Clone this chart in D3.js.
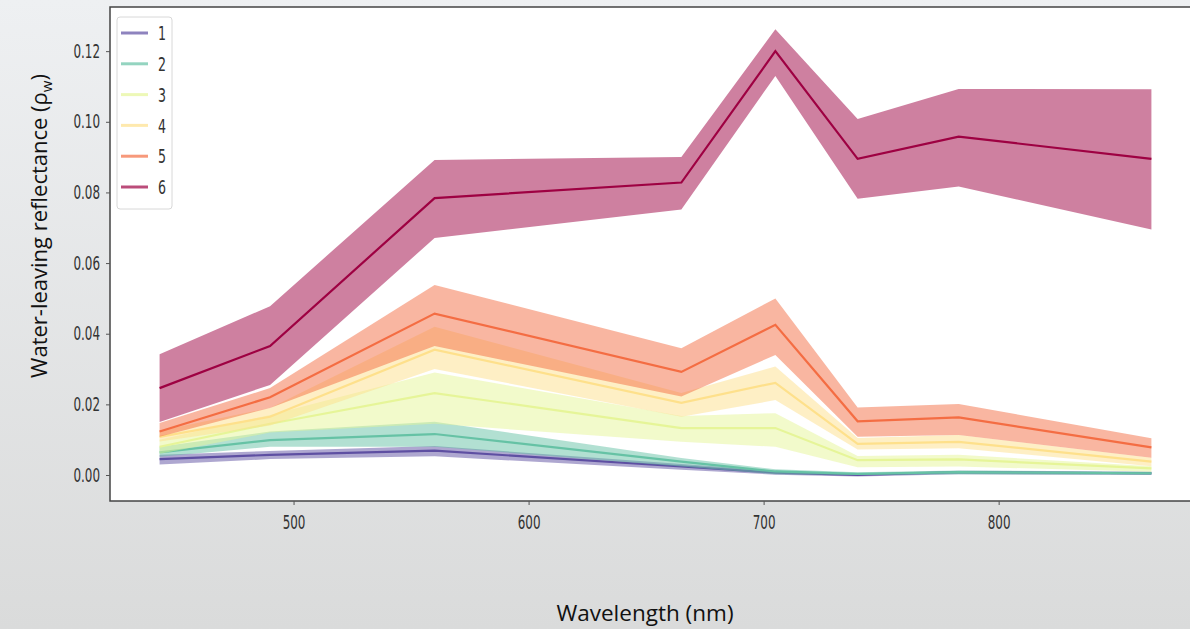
<!DOCTYPE html>
<html>
<head>
<meta charset="utf-8">
<script src="https://cdn.jsdelivr.net/npm/d3@7"></script>
<style>
  html, body { margin: 0; padding: 0; }
  body { width: 1190px; height: 629px; overflow: hidden; }
  .tick text, .entry text { font-family: "DejaVu Sans Condensed", "DejaVu Sans", sans-serif; fill: #333; }
</style>
</head>
<body>
<svg width="1190" height="629"></svg>
<script>
// Sentinel-2 band centres (nm)
let wavelengths = [443, 490, 560, 665, 705, 740, 783, 865];
let classes = ["1", "2", "3", "4", "5", "6"];
let colors = ["#5e4fa2", "#66c2a5", "#e6f598", "#fee08b", "#f46d43", "#9e0142"];

// mean reflectance per class
let mean1 = [0.0045, 0.0057, 0.0069, 0.0024, 0.0007, 0.0000, 0.0008, 0.0005];
let mean2 = [0.0064, 0.0099, 0.0116, 0.0038, 0.0010, 0.0003, 0.0008, 0.0005];
let mean3 = [0.0080, 0.0145, 0.0232, 0.0133, 0.0133, 0.0042, 0.0044, 0.0019];
let mean4 = [0.0108, 0.0165, 0.0355, 0.0204, 0.0261, 0.0088, 0.0094, 0.0038];
let mean5 = [0.0123, 0.0220, 0.0457, 0.0292, 0.0425, 0.0152, 0.0163, 0.0078];
let mean6 = [0.0246, 0.0365, 0.0784, 0.0828, 0.1200, 0.0895, 0.0958, 0.0895];

// lower / upper edge of the shaded band
let low1 = [0.0030, 0.0045, 0.0053, 0.0015, 0.0001, -0.0004, 0.0002, 0.0000];
let up1  = [0.0057, 0.0068, 0.0082, 0.0031, 0.0012, 0.0004, 0.0012, 0.0009];
let low2 = [0.0052, 0.0080, 0.0080, 0.0024, 0.0002, 0.0000, 0.0002, 0.0001];
let up2  = [0.0080, 0.0123, 0.0151, 0.0048, 0.0016, 0.0008, 0.0013, 0.0009];
let low3 = [0.0060, 0.0120, 0.0145, 0.0094, 0.0080, 0.0022, 0.0024, 0.0009];
let up3  = [0.0100, 0.0170, 0.0290, 0.0167, 0.0175, 0.0054, 0.0057, 0.0025];
let low4 = [0.0095, 0.0140, 0.0300, 0.0165, 0.0212, 0.0072, 0.0076, 0.0025];
let up4  = [0.0125, 0.0190, 0.0420, 0.0232, 0.0307, 0.0105, 0.0113, 0.0049];
let low5 = [0.0108, 0.0190, 0.0365, 0.0222, 0.0340, 0.0108, 0.0113, 0.0049];
let up5  = [0.0147, 0.0246, 0.0538, 0.0359, 0.0500, 0.0191, 0.0201, 0.0104];
let low6 = [0.0150, 0.0255, 0.0671, 0.0752, 0.1130, 0.0782, 0.0817, 0.0695];
let up6  = [0.0342, 0.0478, 0.0892, 0.0900, 0.1262, 0.1008, 0.1093, 0.1092];

let yTicks = [0, 0.02, 0.04, 0.06, 0.08, 0.10, 0.12];
let xTicks = [500, 600, 700, 800];

let means = [mean1, mean2, mean3, mean4, mean5, mean6];
let lows = [low1, low2, low3, low4, low5, low6];
let ups = [up1, up2, up3, up4, up5, up6];

let svg = d3.select("svg");
let pLeft = 110, pTop = 7, pRight = 1201, pBottom = 501;
let squeeze = "scale(0.7,1)"; // the slide's tick font is a narrow one

// page background
let defs = svg.append("defs");
let grad = defs.append("linearGradient").attr("id", "bg")
    .attr("x1", 0).attr("y1", 0).attr("x2", 0).attr("y2", 1);
grad.append("stop").attr("offset", "0%").attr("stop-color", "#eef0f2");
grad.append("stop").attr("offset", "100%").attr("stop-color", "#dadbdb");
svg.append("rect").attr("width", 1190).attr("height", 629).attr("fill", "url(#bg)");

defs.append("clipPath").attr("id", "plot")
  .append("rect").attr("x", pLeft).attr("y", pTop)
  .attr("width", pRight - pLeft).attr("height", pBottom - pTop);

var x = d3.scaleLinear().domain([421.9, 886.1]).range([pLeft, pRight]);
var y = d3.scaleLinear().domain([-0.00736, 0.1325]).range([pBottom, pTop]);

svg.append("rect")
    .attr("x", pLeft).attr("y", pTop)
    .attr("width", pRight - pLeft).attr("height", pBottom - pTop)
    .attr("fill", "#fff");

var area = d3.area()
    .x(function(d) { return x(d.w); })
    .y0(function(d) { return y(d.lo); })
    .y1(function(d) { return y(d.hi); });

var line = d3.line()
    .x(function(d) { return x(d.w); })
    .y(function(d) { return y(d.m); });

var series = classes.map(function(c, i) {
    return wavelengths.map(function(w, j) {
        return {w: w, m: means[i][j], lo: lows[i][j], hi: ups[i][j]};
    });
});

var plot = svg.append("g").attr("clip-path", "url(#plot)");

series.forEach(function(s, i) {
    plot.append("path")
        .datum(s)
        .attr("d", area)
        .attr("fill", colors[i])
        .attr("fill-opacity", 0.5);
    plot.append("path")
        .datum(s)
        .attr("d", line)
        .attr("fill", "none")
        .attr("stroke", colors[i])
        .attr("stroke-width", 2.2);
});

// frame
svg.append("rect")
    .attr("x", pLeft).attr("y", pTop)
    .attr("width", pRight - pLeft).attr("height", pBottom - pTop)
    .attr("fill", "none")
    .attr("stroke", "#444")
    .attr("stroke-width", 1.5);

var yAxis = svg.append("g")
    .attr("transform", "translate(" + pLeft + ",0)")
    .call(d3.axisLeft(y).tickValues(yTicks).tickFormat(d3.format(".2f")).tickSize(4));
var xAxis = svg.append("g")
    .attr("transform", "translate(0," + pBottom + ")")
    .call(d3.axisBottom(x).tickValues(xTicks).tickSize(4).tickPadding(11));

[yAxis, xAxis].forEach(function(a) {
    a.select(".domain").remove();
    a.selectAll(".tick line").attr("stroke", "#555");
    a.selectAll(".tick text").attr("font-size", 19);
});
yAxis.selectAll(".tick text")
    .attr("x", 0)
    .attr("transform", "translate(-10,0) " + squeeze);
xAxis.selectAll(".tick text")
    .attr("transform", squeeze);

// legend
var legend = svg.append("g");
legend.append("rect")
    .attr("x", 117).attr("y", 17)
    .attr("width", 55).attr("height", 192)
    .attr("rx", 3)
    .attr("fill", "#fff")
    .attr("stroke", "#d8d8d8");

var entry = legend.selectAll("g.entry")
    .data(classes)
    .enter().append("g")
    .attr("class", "entry")
    .attr("transform", function(d, i) { return "translate(0," + (33 + i * 30.8) + ")"; });
entry.append("line")
    .attr("x1", 121).attr("x2", 148)
    .attr("stroke", function(d, i) { return colors[i]; })
    .attr("stroke-opacity", 0.7)
    .attr("stroke-width", 3);
entry.append("text")
    .attr("transform", "translate(158,0) " + squeeze)
    .attr("dy", "0.36em")
    .attr("font-size", 20)
    .attr("fill", "#222")
    .text(function(d) { return d; });

// axis titles
svg.append("text")
    .attr("x", 645).attr("y", 621)
    .attr("text-anchor", "middle")
    .attr("font-family", "'Open Sans', sans-serif")
    .attr("font-size", 22.5)
    .attr("fill", "#111")
    .text("Wavelength (nm)");

var yt = svg.append("text")
    .attr("transform", "translate(47,226) rotate(-90)")
    .attr("text-anchor", "middle")
    .attr("font-family", "'Open Sans', sans-serif")
    .attr("font-size", 22)
    .attr("fill", "#111");
yt.append("tspan").text("Water-leaving reflectance (ρ");
yt.append("tspan").attr("font-size", 15).attr("dy", 5).text("w");
yt.append("tspan").attr("dy", -5).text(")");
</script>
</body>
</html>
